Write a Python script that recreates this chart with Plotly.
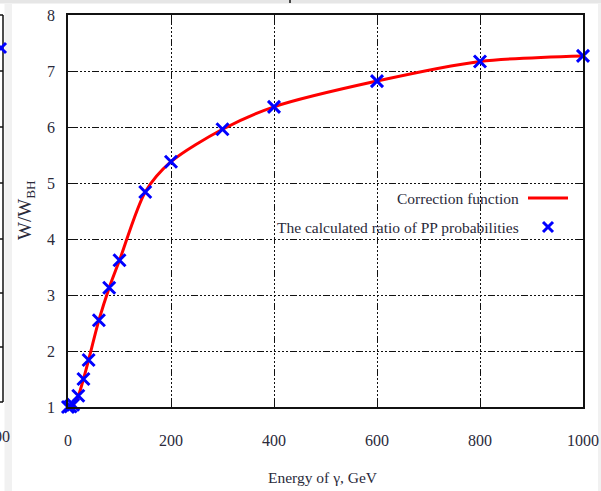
import plotly.graph_objects as go

# ---- data ----
energy_gev = [0, 5, 10, 20, 30, 40, 60, 80, 100, 150, 200, 300, 400, 600, 800, 1000]
ratio_pp = [1.0, 1.01, 1.04, 1.2, 1.5, 1.84, 2.55, 3.13, 3.62, 4.84, 5.38, 5.96, 6.36, 6.82, 7.17, 7.27]
x_ticks = [0, 200, 400, 600, 800, 1000]
y_ticks = [1, 2, 3, 4, 5, 6, 7, 8]
series_names = ["Correction function", "The calculated ratio of PP probabilities"]

# ---- geometry helpers (pixel -> paper) ----
L, R, T, B = 68, 583, 15, 407
W, H = R - L, B - T


def px(x):
    return (x - L) / W


def py(y):
    return (B - y) / H


SERIF = "Liberation Serif, Times New Roman, serif"
TXT = "#2a2a3a"
GRIDDASH = "2px,2px,2px,2px,2px,2px,2px,2px,2px,2px,2px,2px,7px,2px"

fig = go.Figure()

fig.add_trace(go.Scatter(
    x=energy_gev, y=ratio_pp, mode="lines",
    line=dict(color="#ff0000", width=3, shape="spline", smoothing=0.8),
    name=series_names[0], showlegend=False, cliponaxis=False,
))
fig.add_trace(go.Scatter(
    x=energy_gev, y=ratio_pp, mode="markers",
    marker=dict(symbol="x-thin-open", size=12, line=dict(color="#0000ff", width=3), color="#0000ff"),
    name=series_names[1], showlegend=False, cliponaxis=False,
))

axis_common = dict(
    showline=True, linecolor="#111", linewidth=1.5, mirror="ticks",
    ticks="inside", ticklen=8, tickcolor="#111", tickwidth=1.2,
    showgrid=True, gridcolor="#111", gridwidth=1, griddash=GRIDDASH,
    zeroline=False,
    tickfont=dict(family=SERIF, size=16, color=TXT),
)

fig.update_xaxes(range=[0, 1000], tickvals=x_ticks, ticklabelstandoff=18, **axis_common)
fig.update_yaxes(range=[1, 8], tickvals=y_ticks, ticklabelstandoff=8, **axis_common)

shapes = []
# legend area (hides grid)
shapes.append(dict(type="rect", xref="paper", yref="paper", x0=px(262), x1=px(582), y0=py(241), y1=py(181),
                   fillcolor="white", line=dict(width=0), layer="between"))
# legend samples
shapes.append(dict(type="line", xref="paper", yref="paper", x0=px(528), x1=px(568), y0=py(198), y1=py(198),
                   line=dict(color="#ff0000", width=3)))
for (a, b, c, d) in [(543, 222, 553, 232), (543, 232, 553, 222)]:
    shapes.append(dict(type="line", xref="paper", yref="paper", x0=px(a), y0=py(b), x1=px(c), y1=py(d),
                       line=dict(color="#0000ff", width=3)))

# page border strips
GRAY = "#e6e6e6"
shapes.append(dict(type="rect", xref="paper", yref="paper", x0=px(0), x1=px(601), y0=py(0), y1=py(3.5),
                   fillcolor=GRAY, line=dict(width=0), layer="below"))
shapes.append(dict(type="rect", xref="paper", yref="paper", x0=px(4.5), x1=px(12), y0=py(3.5), y1=py(491),
                   fillcolor="#f1f1f1", line=dict(width=0), layer="below"))
shapes.append(dict(type="rect", xref="paper", yref="paper", x0=px(598), x1=px(601), y0=py(3.5), y1=py(491),
                   fillcolor="#f1f1f1", line=dict(width=0), layer="below"))
# tiny tick at top
shapes.append(dict(type="line", xref="paper", yref="paper", x0=px(290), x1=px(290), y0=py(0), y1=py(3),
                   line=dict(color="#111", width=1.5)))
# partial neighbouring panel at left edge
shapes.append(dict(type="line", xref="paper", yref="paper", x0=px(3), x1=px(3), y0=py(15), y1=py(402),
                   line=dict(color="#111", width=1.5)))
for yy in [15, 71, 127, 183, 239, 293, 347, 402]:
    shapes.append(dict(type="line", xref="paper", yref="paper", x0=px(0), x1=px(3), y0=py(yy), y1=py(yy),
                       line=dict(color="#111", width=1.5)))
for (a, b, c, d) in [(-4, 43, 6, 53), (-4, 53, 6, 43)]:
    shapes.append(dict(type="line", xref="paper", yref="paper", x0=px(a), y0=py(b), x1=px(c), y1=py(d),
                       line=dict(color="#0000ff", width=3)))

annotations = [
    dict(text=series_names[0], xref="paper", yref="paper", x=px(521), y=py(198), xanchor="right", yanchor="middle",
         showarrow=False, font=dict(family=SERIF, size=15.5, color=TXT)),
    dict(text=series_names[1], xref="paper", yref="paper", x=px(521), y=py(227), xanchor="right", yanchor="middle",
         showarrow=False, font=dict(family=SERIF, size=15.5, color=TXT)),
    dict(text="Energy of \u03b3, GeV", xref="paper", yref="paper", x=px(323), y=py(477), xanchor="center",
         yanchor="middle", showarrow=False, font=dict(family=SERIF, size=15.5, color=TXT)),
    dict(text="W/W<sub>BH</sub>", xref="paper", yref="paper", x=px(26), y=py(210), xanchor="center",
         yanchor="middle", textangle=-90, showarrow=False, font=dict(family=SERIF, size=19, color=TXT)),
    dict(text="1000", xref="paper", yref="paper", x=px(12), y=py(437), xanchor="right", yanchor="middle",
         showarrow=False, font=dict(family=SERIF, size=16, color=TXT)),
]

fig.update_layout(
    width=601, height=491,
    margin=dict(l=L, r=601 - R, t=T, b=491 - B, autoexpand=False),
    paper_bgcolor="white", plot_bgcolor="white",
    showlegend=False,
    shapes=shapes, annotations=annotations,
)

fig.write_html(
    "out.html",
    config={"displayModeBar": False},
    post_script="document.body.style.margin='0px';document.body.style.overflow='hidden';",
)
